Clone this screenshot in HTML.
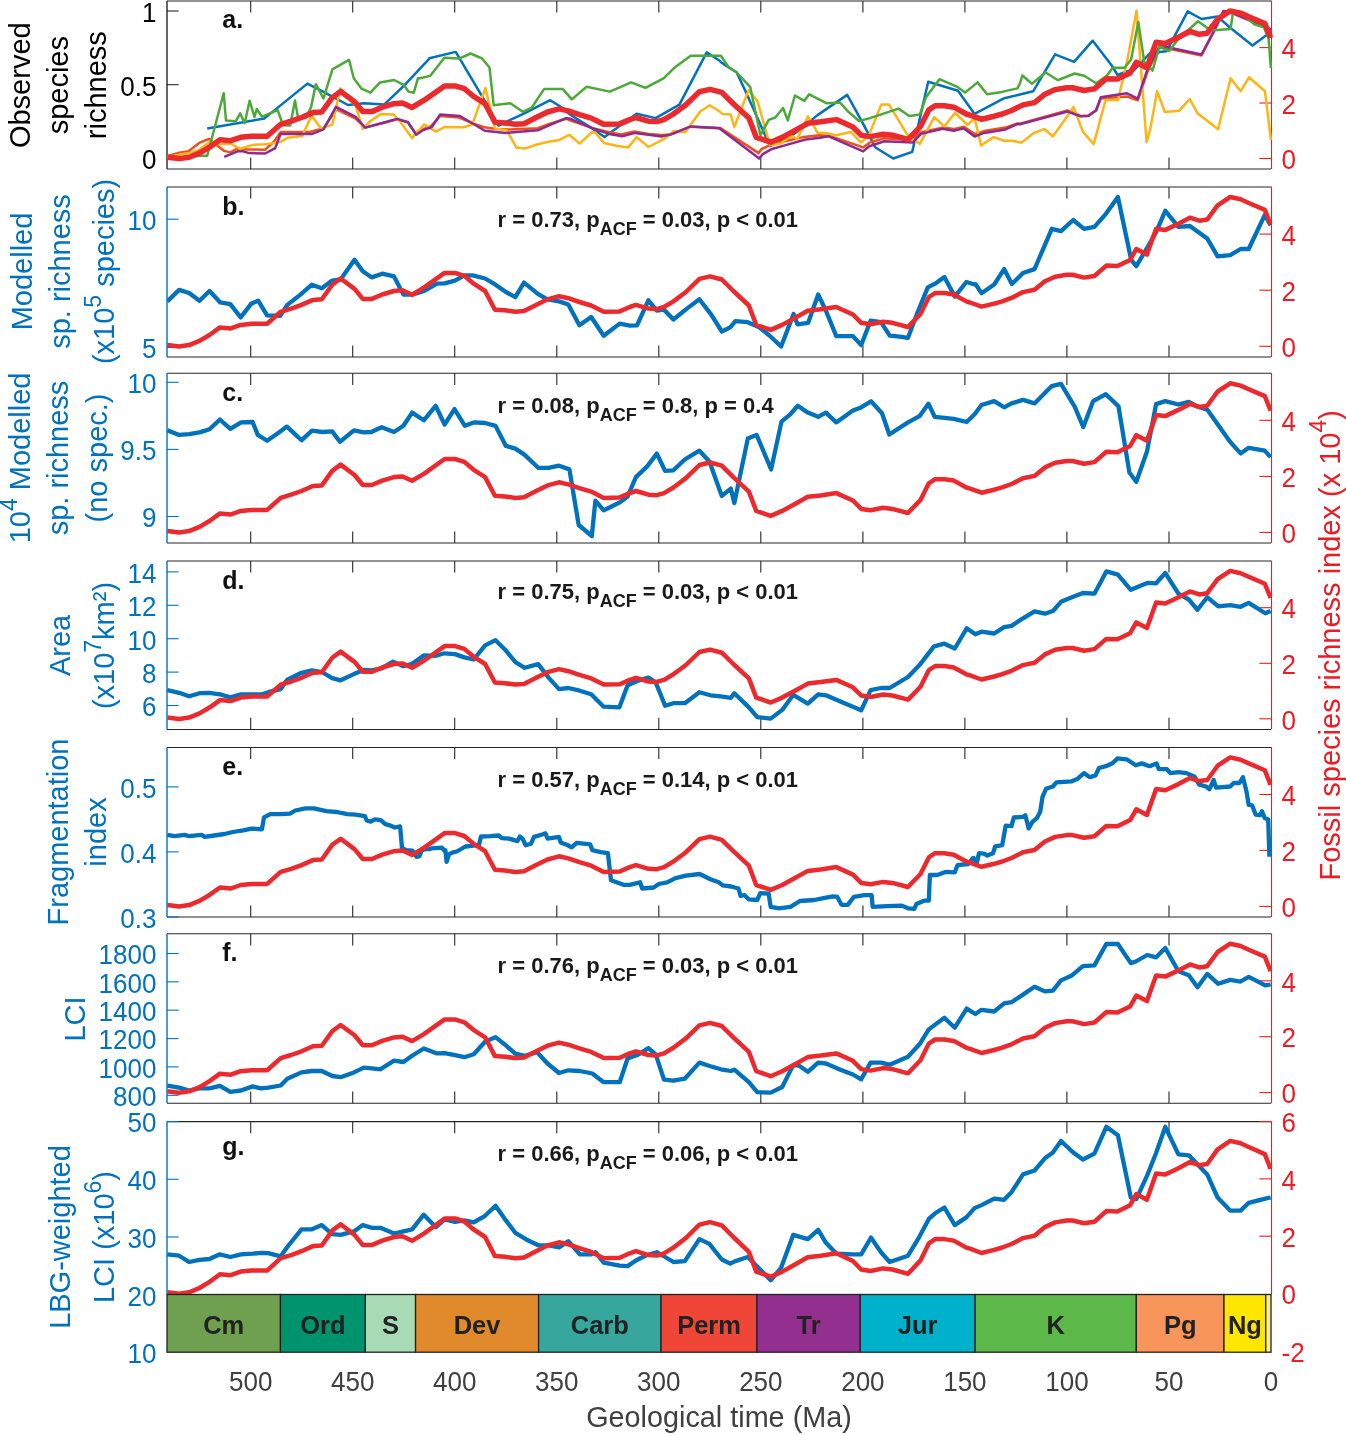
<!DOCTYPE html><html><head><meta charset="utf-8"><style>html,body{margin:0;padding:0;background:#fff;}svg{display:block;will-change:transform;}text{font-family:"Liberation Sans",sans-serif;}</style></head><body>
<svg width="1346" height="1435" viewBox="0 0 1346 1435">
<rect width="1346" height="1435" fill="#fff"/>
<defs>
<clipPath id="cpa"><rect x="167.0" y="1.0" width="1106.0" height="168.0"/></clipPath>
<clipPath id="cpb"><rect x="167.0" y="187.0" width="1104.6" height="170.0"/></clipPath>
<clipPath id="cpc"><rect x="167.0" y="373.3" width="1104.6" height="169.7"/></clipPath>
<clipPath id="cpd"><rect x="167.0" y="561.0" width="1104.6" height="168.4"/></clipPath>
<clipPath id="cpe"><rect x="167.0" y="747.5" width="1104.6" height="169.5"/></clipPath>
<clipPath id="cpf"><rect x="167.0" y="933.8" width="1104.6" height="169.4"/></clipPath>
<clipPath id="cpg"><rect x="167.0" y="1121.6" width="1104.6" height="175.9"/></clipPath>
</defs>
<line x1="167.0" y1="1.0" x2="1271.0" y2="1.0" stroke="#262626" stroke-width="1.05"/>
<line x1="167.0" y1="169.0" x2="1271.0" y2="169.0" stroke="#262626" stroke-width="1.05"/>
<line x1="250.7" y1="1.0" x2="250.7" y2="12.6" stroke="#262626" stroke-width="1.1"/>
<line x1="250.7" y1="169.0" x2="250.7" y2="157.4" stroke="#262626" stroke-width="1.1"/>
<line x1="352.7" y1="1.0" x2="352.7" y2="12.6" stroke="#262626" stroke-width="1.1"/>
<line x1="352.7" y1="169.0" x2="352.7" y2="157.4" stroke="#262626" stroke-width="1.1"/>
<line x1="454.7" y1="1.0" x2="454.7" y2="12.6" stroke="#262626" stroke-width="1.1"/>
<line x1="454.7" y1="169.0" x2="454.7" y2="157.4" stroke="#262626" stroke-width="1.1"/>
<line x1="556.8" y1="1.0" x2="556.8" y2="12.6" stroke="#262626" stroke-width="1.1"/>
<line x1="556.8" y1="169.0" x2="556.8" y2="157.4" stroke="#262626" stroke-width="1.1"/>
<line x1="658.8" y1="1.0" x2="658.8" y2="12.6" stroke="#262626" stroke-width="1.1"/>
<line x1="658.8" y1="169.0" x2="658.8" y2="157.4" stroke="#262626" stroke-width="1.1"/>
<line x1="760.8" y1="1.0" x2="760.8" y2="12.6" stroke="#262626" stroke-width="1.1"/>
<line x1="760.8" y1="169.0" x2="760.8" y2="157.4" stroke="#262626" stroke-width="1.1"/>
<line x1="862.9" y1="1.0" x2="862.9" y2="12.6" stroke="#262626" stroke-width="1.1"/>
<line x1="862.9" y1="169.0" x2="862.9" y2="157.4" stroke="#262626" stroke-width="1.1"/>
<line x1="964.9" y1="1.0" x2="964.9" y2="12.6" stroke="#262626" stroke-width="1.1"/>
<line x1="964.9" y1="169.0" x2="964.9" y2="157.4" stroke="#262626" stroke-width="1.1"/>
<line x1="1066.9" y1="1.0" x2="1066.9" y2="12.6" stroke="#262626" stroke-width="1.1"/>
<line x1="1066.9" y1="169.0" x2="1066.9" y2="157.4" stroke="#262626" stroke-width="1.1"/>
<line x1="1169.0" y1="1.0" x2="1169.0" y2="12.6" stroke="#262626" stroke-width="1.1"/>
<line x1="1169.0" y1="169.0" x2="1169.0" y2="157.4" stroke="#262626" stroke-width="1.1"/>
<line x1="167.0" y1="1.0" x2="167.0" y2="169.0" stroke="#262626" stroke-width="1.4"/>
<line x1="167.0" y1="11.0" x2="178.6" y2="11.0" stroke="#262626" stroke-width="1.1"/>
<text transform="translate(156.40,21.80) scale(1,1.04)" font-size="26" fill="#000" text-anchor="end">1</text>
<line x1="167.0" y1="84.7" x2="178.6" y2="84.7" stroke="#262626" stroke-width="1.1"/>
<text transform="translate(156.40,95.50) scale(1,1.04)" font-size="26" fill="#000" text-anchor="end">0.5</text>
<line x1="167.0" y1="158.4" x2="178.6" y2="158.4" stroke="#262626" stroke-width="1.1"/>
<text transform="translate(156.40,169.20) scale(1,1.04)" font-size="26" fill="#000" text-anchor="end">0</text>
<line x1="1271.5" y1="0.5" x2="1271.5" y2="169.0" stroke="#EC1C24" stroke-width="1.15"/>
<line x1="1259.4" y1="47.6" x2="1271.0" y2="47.6" stroke="#EC1C24" stroke-width="1.1"/>
<text transform="translate(1281.50,58.37) scale(1,1.04)" font-size="26" fill="#EC1C24">4</text>
<line x1="1259.4" y1="103.0" x2="1271.0" y2="103.0" stroke="#EC1C24" stroke-width="1.1"/>
<text transform="translate(1281.50,113.82) scale(1,1.04)" font-size="26" fill="#EC1C24">2</text>
<line x1="1259.4" y1="158.5" x2="1271.0" y2="158.5" stroke="#EC1C24" stroke-width="1.1"/>
<text transform="translate(1281.50,169.27) scale(1,1.04)" font-size="26" fill="#EC1C24">0</text>
<line x1="167.0" y1="187.0" x2="1271.0" y2="187.0" stroke="#262626" stroke-width="1.05"/>
<line x1="167.0" y1="357.0" x2="1271.0" y2="357.0" stroke="#262626" stroke-width="1.05"/>
<line x1="250.7" y1="187.0" x2="250.7" y2="198.6" stroke="#262626" stroke-width="1.1"/>
<line x1="250.7" y1="357.0" x2="250.7" y2="345.4" stroke="#262626" stroke-width="1.1"/>
<line x1="352.7" y1="187.0" x2="352.7" y2="198.6" stroke="#262626" stroke-width="1.1"/>
<line x1="352.7" y1="357.0" x2="352.7" y2="345.4" stroke="#262626" stroke-width="1.1"/>
<line x1="454.7" y1="187.0" x2="454.7" y2="198.6" stroke="#262626" stroke-width="1.1"/>
<line x1="454.7" y1="357.0" x2="454.7" y2="345.4" stroke="#262626" stroke-width="1.1"/>
<line x1="556.8" y1="187.0" x2="556.8" y2="198.6" stroke="#262626" stroke-width="1.1"/>
<line x1="556.8" y1="357.0" x2="556.8" y2="345.4" stroke="#262626" stroke-width="1.1"/>
<line x1="658.8" y1="187.0" x2="658.8" y2="198.6" stroke="#262626" stroke-width="1.1"/>
<line x1="658.8" y1="357.0" x2="658.8" y2="345.4" stroke="#262626" stroke-width="1.1"/>
<line x1="760.8" y1="187.0" x2="760.8" y2="198.6" stroke="#262626" stroke-width="1.1"/>
<line x1="760.8" y1="357.0" x2="760.8" y2="345.4" stroke="#262626" stroke-width="1.1"/>
<line x1="862.9" y1="187.0" x2="862.9" y2="198.6" stroke="#262626" stroke-width="1.1"/>
<line x1="862.9" y1="357.0" x2="862.9" y2="345.4" stroke="#262626" stroke-width="1.1"/>
<line x1="964.9" y1="187.0" x2="964.9" y2="198.6" stroke="#262626" stroke-width="1.1"/>
<line x1="964.9" y1="357.0" x2="964.9" y2="345.4" stroke="#262626" stroke-width="1.1"/>
<line x1="1066.9" y1="187.0" x2="1066.9" y2="198.6" stroke="#262626" stroke-width="1.1"/>
<line x1="1066.9" y1="357.0" x2="1066.9" y2="345.4" stroke="#262626" stroke-width="1.1"/>
<line x1="1169.0" y1="187.0" x2="1169.0" y2="198.6" stroke="#262626" stroke-width="1.1"/>
<line x1="1169.0" y1="357.0" x2="1169.0" y2="345.4" stroke="#262626" stroke-width="1.1"/>
<line x1="167.0" y1="187.0" x2="167.0" y2="357.0" stroke="#0072BD" stroke-width="1.4"/>
<line x1="167.0" y1="219.2" x2="178.6" y2="219.2" stroke="#0072BD" stroke-width="1.1"/>
<text transform="translate(156.40,230.00) scale(1,1.04)" font-size="26" fill="#0072BD" text-anchor="end">10</text>
<line x1="167.0" y1="347.5" x2="178.6" y2="347.5" stroke="#0072BD" stroke-width="1.1"/>
<text transform="translate(156.40,358.30) scale(1,1.04)" font-size="26" fill="#0072BD" text-anchor="end">5</text>
<line x1="1271.5" y1="186.5" x2="1271.5" y2="357.0" stroke="#EC1C24" stroke-width="1.15"/>
<line x1="1259.4" y1="234.1" x2="1271.0" y2="234.1" stroke="#EC1C24" stroke-width="1.1"/>
<text transform="translate(1281.50,244.93) scale(1,1.04)" font-size="26" fill="#EC1C24">4</text>
<line x1="1259.4" y1="290.2" x2="1271.0" y2="290.2" stroke="#EC1C24" stroke-width="1.1"/>
<text transform="translate(1281.50,301.03) scale(1,1.04)" font-size="26" fill="#EC1C24">2</text>
<line x1="1259.4" y1="346.3" x2="1271.0" y2="346.3" stroke="#EC1C24" stroke-width="1.1"/>
<text transform="translate(1281.50,357.14) scale(1,1.04)" font-size="26" fill="#EC1C24">0</text>
<line x1="167.0" y1="373.3" x2="1271.0" y2="373.3" stroke="#262626" stroke-width="1.05"/>
<line x1="167.0" y1="543.0" x2="1271.0" y2="543.0" stroke="#262626" stroke-width="1.05"/>
<line x1="250.7" y1="373.3" x2="250.7" y2="384.9" stroke="#262626" stroke-width="1.1"/>
<line x1="250.7" y1="543.0" x2="250.7" y2="531.4" stroke="#262626" stroke-width="1.1"/>
<line x1="352.7" y1="373.3" x2="352.7" y2="384.9" stroke="#262626" stroke-width="1.1"/>
<line x1="352.7" y1="543.0" x2="352.7" y2="531.4" stroke="#262626" stroke-width="1.1"/>
<line x1="454.7" y1="373.3" x2="454.7" y2="384.9" stroke="#262626" stroke-width="1.1"/>
<line x1="454.7" y1="543.0" x2="454.7" y2="531.4" stroke="#262626" stroke-width="1.1"/>
<line x1="556.8" y1="373.3" x2="556.8" y2="384.9" stroke="#262626" stroke-width="1.1"/>
<line x1="556.8" y1="543.0" x2="556.8" y2="531.4" stroke="#262626" stroke-width="1.1"/>
<line x1="658.8" y1="373.3" x2="658.8" y2="384.9" stroke="#262626" stroke-width="1.1"/>
<line x1="658.8" y1="543.0" x2="658.8" y2="531.4" stroke="#262626" stroke-width="1.1"/>
<line x1="760.8" y1="373.3" x2="760.8" y2="384.9" stroke="#262626" stroke-width="1.1"/>
<line x1="760.8" y1="543.0" x2="760.8" y2="531.4" stroke="#262626" stroke-width="1.1"/>
<line x1="862.9" y1="373.3" x2="862.9" y2="384.9" stroke="#262626" stroke-width="1.1"/>
<line x1="862.9" y1="543.0" x2="862.9" y2="531.4" stroke="#262626" stroke-width="1.1"/>
<line x1="964.9" y1="373.3" x2="964.9" y2="384.9" stroke="#262626" stroke-width="1.1"/>
<line x1="964.9" y1="543.0" x2="964.9" y2="531.4" stroke="#262626" stroke-width="1.1"/>
<line x1="1066.9" y1="373.3" x2="1066.9" y2="384.9" stroke="#262626" stroke-width="1.1"/>
<line x1="1066.9" y1="543.0" x2="1066.9" y2="531.4" stroke="#262626" stroke-width="1.1"/>
<line x1="1169.0" y1="373.3" x2="1169.0" y2="384.9" stroke="#262626" stroke-width="1.1"/>
<line x1="1169.0" y1="543.0" x2="1169.0" y2="531.4" stroke="#262626" stroke-width="1.1"/>
<line x1="167.0" y1="373.3" x2="167.0" y2="543.0" stroke="#0072BD" stroke-width="1.4"/>
<line x1="167.0" y1="382.3" x2="178.6" y2="382.3" stroke="#0072BD" stroke-width="1.1"/>
<text transform="translate(156.40,393.10) scale(1,1.04)" font-size="26" fill="#0072BD" text-anchor="end">10</text>
<line x1="167.0" y1="449.4" x2="178.6" y2="449.4" stroke="#0072BD" stroke-width="1.1"/>
<text transform="translate(156.40,460.20) scale(1,1.04)" font-size="26" fill="#0072BD" text-anchor="end">9.5</text>
<line x1="167.0" y1="516.5" x2="178.6" y2="516.5" stroke="#0072BD" stroke-width="1.1"/>
<text transform="translate(156.40,527.30) scale(1,1.04)" font-size="26" fill="#0072BD" text-anchor="end">9</text>
<line x1="1271.5" y1="372.8" x2="1271.5" y2="543.0" stroke="#EC1C24" stroke-width="1.15"/>
<line x1="1259.4" y1="420.3" x2="1271.0" y2="420.3" stroke="#EC1C24" stroke-width="1.1"/>
<text transform="translate(1281.50,431.15) scale(1,1.04)" font-size="26" fill="#EC1C24">4</text>
<line x1="1259.4" y1="476.4" x2="1271.0" y2="476.4" stroke="#EC1C24" stroke-width="1.1"/>
<text transform="translate(1281.50,487.15) scale(1,1.04)" font-size="26" fill="#EC1C24">2</text>
<line x1="1259.4" y1="532.4" x2="1271.0" y2="532.4" stroke="#EC1C24" stroke-width="1.1"/>
<text transform="translate(1281.50,543.16) scale(1,1.04)" font-size="26" fill="#EC1C24">0</text>
<line x1="167.0" y1="561.0" x2="1271.0" y2="561.0" stroke="#262626" stroke-width="1.05"/>
<line x1="167.0" y1="729.4" x2="1271.0" y2="729.4" stroke="#262626" stroke-width="1.05"/>
<line x1="250.7" y1="561.0" x2="250.7" y2="572.6" stroke="#262626" stroke-width="1.1"/>
<line x1="250.7" y1="729.4" x2="250.7" y2="717.8" stroke="#262626" stroke-width="1.1"/>
<line x1="352.7" y1="561.0" x2="352.7" y2="572.6" stroke="#262626" stroke-width="1.1"/>
<line x1="352.7" y1="729.4" x2="352.7" y2="717.8" stroke="#262626" stroke-width="1.1"/>
<line x1="454.7" y1="561.0" x2="454.7" y2="572.6" stroke="#262626" stroke-width="1.1"/>
<line x1="454.7" y1="729.4" x2="454.7" y2="717.8" stroke="#262626" stroke-width="1.1"/>
<line x1="556.8" y1="561.0" x2="556.8" y2="572.6" stroke="#262626" stroke-width="1.1"/>
<line x1="556.8" y1="729.4" x2="556.8" y2="717.8" stroke="#262626" stroke-width="1.1"/>
<line x1="658.8" y1="561.0" x2="658.8" y2="572.6" stroke="#262626" stroke-width="1.1"/>
<line x1="658.8" y1="729.4" x2="658.8" y2="717.8" stroke="#262626" stroke-width="1.1"/>
<line x1="760.8" y1="561.0" x2="760.8" y2="572.6" stroke="#262626" stroke-width="1.1"/>
<line x1="760.8" y1="729.4" x2="760.8" y2="717.8" stroke="#262626" stroke-width="1.1"/>
<line x1="862.9" y1="561.0" x2="862.9" y2="572.6" stroke="#262626" stroke-width="1.1"/>
<line x1="862.9" y1="729.4" x2="862.9" y2="717.8" stroke="#262626" stroke-width="1.1"/>
<line x1="964.9" y1="561.0" x2="964.9" y2="572.6" stroke="#262626" stroke-width="1.1"/>
<line x1="964.9" y1="729.4" x2="964.9" y2="717.8" stroke="#262626" stroke-width="1.1"/>
<line x1="1066.9" y1="561.0" x2="1066.9" y2="572.6" stroke="#262626" stroke-width="1.1"/>
<line x1="1066.9" y1="729.4" x2="1066.9" y2="717.8" stroke="#262626" stroke-width="1.1"/>
<line x1="1169.0" y1="561.0" x2="1169.0" y2="572.6" stroke="#262626" stroke-width="1.1"/>
<line x1="1169.0" y1="729.4" x2="1169.0" y2="717.8" stroke="#262626" stroke-width="1.1"/>
<line x1="167.0" y1="561.0" x2="167.0" y2="729.4" stroke="#0072BD" stroke-width="1.4"/>
<line x1="167.0" y1="571.9" x2="178.6" y2="571.9" stroke="#0072BD" stroke-width="1.1"/>
<text transform="translate(156.40,582.70) scale(1,1.04)" font-size="26" fill="#0072BD" text-anchor="end">14</text>
<line x1="167.0" y1="605.3" x2="178.6" y2="605.3" stroke="#0072BD" stroke-width="1.1"/>
<text transform="translate(156.40,616.10) scale(1,1.04)" font-size="26" fill="#0072BD" text-anchor="end">12</text>
<line x1="167.0" y1="638.7" x2="178.6" y2="638.7" stroke="#0072BD" stroke-width="1.1"/>
<text transform="translate(156.40,649.50) scale(1,1.04)" font-size="26" fill="#0072BD" text-anchor="end">10</text>
<line x1="167.0" y1="672.1" x2="178.6" y2="672.1" stroke="#0072BD" stroke-width="1.1"/>
<text transform="translate(156.40,682.90) scale(1,1.04)" font-size="26" fill="#0072BD" text-anchor="end">8</text>
<line x1="167.0" y1="705.5" x2="178.6" y2="705.5" stroke="#0072BD" stroke-width="1.1"/>
<text transform="translate(156.40,716.30) scale(1,1.04)" font-size="26" fill="#0072BD" text-anchor="end">6</text>
<line x1="1271.5" y1="560.5" x2="1271.5" y2="729.4" stroke="#EC1C24" stroke-width="1.15"/>
<line x1="1259.4" y1="607.7" x2="1271.0" y2="607.7" stroke="#EC1C24" stroke-width="1.1"/>
<text transform="translate(1281.50,618.49) scale(1,1.04)" font-size="26" fill="#EC1C24">4</text>
<line x1="1259.4" y1="663.3" x2="1271.0" y2="663.3" stroke="#EC1C24" stroke-width="1.1"/>
<text transform="translate(1281.50,674.06) scale(1,1.04)" font-size="26" fill="#EC1C24">2</text>
<line x1="1259.4" y1="718.8" x2="1271.0" y2="718.8" stroke="#EC1C24" stroke-width="1.1"/>
<text transform="translate(1281.50,729.64) scale(1,1.04)" font-size="26" fill="#EC1C24">0</text>
<line x1="167.0" y1="747.5" x2="1271.0" y2="747.5" stroke="#262626" stroke-width="1.05"/>
<line x1="167.0" y1="917.0" x2="1271.0" y2="917.0" stroke="#262626" stroke-width="1.05"/>
<line x1="250.7" y1="747.5" x2="250.7" y2="759.1" stroke="#262626" stroke-width="1.1"/>
<line x1="250.7" y1="917.0" x2="250.7" y2="905.4" stroke="#262626" stroke-width="1.1"/>
<line x1="352.7" y1="747.5" x2="352.7" y2="759.1" stroke="#262626" stroke-width="1.1"/>
<line x1="352.7" y1="917.0" x2="352.7" y2="905.4" stroke="#262626" stroke-width="1.1"/>
<line x1="454.7" y1="747.5" x2="454.7" y2="759.1" stroke="#262626" stroke-width="1.1"/>
<line x1="454.7" y1="917.0" x2="454.7" y2="905.4" stroke="#262626" stroke-width="1.1"/>
<line x1="556.8" y1="747.5" x2="556.8" y2="759.1" stroke="#262626" stroke-width="1.1"/>
<line x1="556.8" y1="917.0" x2="556.8" y2="905.4" stroke="#262626" stroke-width="1.1"/>
<line x1="658.8" y1="747.5" x2="658.8" y2="759.1" stroke="#262626" stroke-width="1.1"/>
<line x1="658.8" y1="917.0" x2="658.8" y2="905.4" stroke="#262626" stroke-width="1.1"/>
<line x1="760.8" y1="747.5" x2="760.8" y2="759.1" stroke="#262626" stroke-width="1.1"/>
<line x1="760.8" y1="917.0" x2="760.8" y2="905.4" stroke="#262626" stroke-width="1.1"/>
<line x1="862.9" y1="747.5" x2="862.9" y2="759.1" stroke="#262626" stroke-width="1.1"/>
<line x1="862.9" y1="917.0" x2="862.9" y2="905.4" stroke="#262626" stroke-width="1.1"/>
<line x1="964.9" y1="747.5" x2="964.9" y2="759.1" stroke="#262626" stroke-width="1.1"/>
<line x1="964.9" y1="917.0" x2="964.9" y2="905.4" stroke="#262626" stroke-width="1.1"/>
<line x1="1066.9" y1="747.5" x2="1066.9" y2="759.1" stroke="#262626" stroke-width="1.1"/>
<line x1="1066.9" y1="917.0" x2="1066.9" y2="905.4" stroke="#262626" stroke-width="1.1"/>
<line x1="1169.0" y1="747.5" x2="1169.0" y2="759.1" stroke="#262626" stroke-width="1.1"/>
<line x1="1169.0" y1="917.0" x2="1169.0" y2="905.4" stroke="#262626" stroke-width="1.1"/>
<line x1="167.0" y1="747.5" x2="167.0" y2="917.0" stroke="#0072BD" stroke-width="1.4"/>
<line x1="167.0" y1="786.9" x2="178.6" y2="786.9" stroke="#0072BD" stroke-width="1.1"/>
<text transform="translate(156.40,797.70) scale(1,1.04)" font-size="26" fill="#0072BD" text-anchor="end">0.5</text>
<line x1="167.0" y1="851.9" x2="178.6" y2="851.9" stroke="#0072BD" stroke-width="1.1"/>
<text transform="translate(156.40,862.70) scale(1,1.04)" font-size="26" fill="#0072BD" text-anchor="end">0.4</text>
<line x1="167.0" y1="917.0" x2="178.6" y2="917.0" stroke="#0072BD" stroke-width="1.1"/>
<text transform="translate(156.40,927.80) scale(1,1.04)" font-size="26" fill="#0072BD" text-anchor="end">0.3</text>
<line x1="1271.5" y1="747.0" x2="1271.5" y2="917.0" stroke="#EC1C24" stroke-width="1.15"/>
<line x1="1259.4" y1="794.5" x2="1271.0" y2="794.5" stroke="#EC1C24" stroke-width="1.1"/>
<text transform="translate(1281.50,805.29) scale(1,1.04)" font-size="26" fill="#EC1C24">4</text>
<line x1="1259.4" y1="850.4" x2="1271.0" y2="850.4" stroke="#EC1C24" stroke-width="1.1"/>
<text transform="translate(1281.50,861.23) scale(1,1.04)" font-size="26" fill="#EC1C24">2</text>
<line x1="1259.4" y1="906.4" x2="1271.0" y2="906.4" stroke="#EC1C24" stroke-width="1.1"/>
<text transform="translate(1281.50,917.17) scale(1,1.04)" font-size="26" fill="#EC1C24">0</text>
<line x1="167.0" y1="933.8" x2="1271.0" y2="933.8" stroke="#262626" stroke-width="1.05"/>
<line x1="167.0" y1="1103.2" x2="1271.0" y2="1103.2" stroke="#262626" stroke-width="1.05"/>
<line x1="250.7" y1="933.8" x2="250.7" y2="945.4" stroke="#262626" stroke-width="1.1"/>
<line x1="250.7" y1="1103.2" x2="250.7" y2="1091.6" stroke="#262626" stroke-width="1.1"/>
<line x1="352.7" y1="933.8" x2="352.7" y2="945.4" stroke="#262626" stroke-width="1.1"/>
<line x1="352.7" y1="1103.2" x2="352.7" y2="1091.6" stroke="#262626" stroke-width="1.1"/>
<line x1="454.7" y1="933.8" x2="454.7" y2="945.4" stroke="#262626" stroke-width="1.1"/>
<line x1="454.7" y1="1103.2" x2="454.7" y2="1091.6" stroke="#262626" stroke-width="1.1"/>
<line x1="556.8" y1="933.8" x2="556.8" y2="945.4" stroke="#262626" stroke-width="1.1"/>
<line x1="556.8" y1="1103.2" x2="556.8" y2="1091.6" stroke="#262626" stroke-width="1.1"/>
<line x1="658.8" y1="933.8" x2="658.8" y2="945.4" stroke="#262626" stroke-width="1.1"/>
<line x1="658.8" y1="1103.2" x2="658.8" y2="1091.6" stroke="#262626" stroke-width="1.1"/>
<line x1="760.8" y1="933.8" x2="760.8" y2="945.4" stroke="#262626" stroke-width="1.1"/>
<line x1="760.8" y1="1103.2" x2="760.8" y2="1091.6" stroke="#262626" stroke-width="1.1"/>
<line x1="862.9" y1="933.8" x2="862.9" y2="945.4" stroke="#262626" stroke-width="1.1"/>
<line x1="862.9" y1="1103.2" x2="862.9" y2="1091.6" stroke="#262626" stroke-width="1.1"/>
<line x1="964.9" y1="933.8" x2="964.9" y2="945.4" stroke="#262626" stroke-width="1.1"/>
<line x1="964.9" y1="1103.2" x2="964.9" y2="1091.6" stroke="#262626" stroke-width="1.1"/>
<line x1="1066.9" y1="933.8" x2="1066.9" y2="945.4" stroke="#262626" stroke-width="1.1"/>
<line x1="1066.9" y1="1103.2" x2="1066.9" y2="1091.6" stroke="#262626" stroke-width="1.1"/>
<line x1="1169.0" y1="933.8" x2="1169.0" y2="945.4" stroke="#262626" stroke-width="1.1"/>
<line x1="1169.0" y1="1103.2" x2="1169.0" y2="1091.6" stroke="#262626" stroke-width="1.1"/>
<line x1="167.0" y1="933.8" x2="167.0" y2="1103.2" stroke="#0072BD" stroke-width="1.4"/>
<line x1="167.0" y1="953.5" x2="178.6" y2="953.5" stroke="#0072BD" stroke-width="1.1"/>
<text transform="translate(156.40,964.30) scale(1,1.04)" font-size="26" fill="#0072BD" text-anchor="end">1800</text>
<line x1="167.0" y1="981.8" x2="178.6" y2="981.8" stroke="#0072BD" stroke-width="1.1"/>
<text transform="translate(156.40,992.60) scale(1,1.04)" font-size="26" fill="#0072BD" text-anchor="end">1600</text>
<line x1="167.0" y1="1010.2" x2="178.6" y2="1010.2" stroke="#0072BD" stroke-width="1.1"/>
<text transform="translate(156.40,1021.00) scale(1,1.04)" font-size="26" fill="#0072BD" text-anchor="end">1400</text>
<line x1="167.0" y1="1038.6" x2="178.6" y2="1038.6" stroke="#0072BD" stroke-width="1.1"/>
<text transform="translate(156.40,1049.40) scale(1,1.04)" font-size="26" fill="#0072BD" text-anchor="end">1200</text>
<line x1="167.0" y1="1066.9" x2="178.6" y2="1066.9" stroke="#0072BD" stroke-width="1.1"/>
<text transform="translate(156.40,1077.70) scale(1,1.04)" font-size="26" fill="#0072BD" text-anchor="end">1000</text>
<line x1="167.0" y1="1095.3" x2="178.6" y2="1095.3" stroke="#0072BD" stroke-width="1.1"/>
<text transform="translate(156.40,1106.10) scale(1,1.04)" font-size="26" fill="#0072BD" text-anchor="end">800</text>
<line x1="1271.5" y1="933.3" x2="1271.5" y2="1103.2" stroke="#EC1C24" stroke-width="1.15"/>
<line x1="1259.4" y1="980.8" x2="1271.0" y2="980.8" stroke="#EC1C24" stroke-width="1.1"/>
<text transform="translate(1281.50,991.56) scale(1,1.04)" font-size="26" fill="#EC1C24">4</text>
<line x1="1259.4" y1="1036.7" x2="1271.0" y2="1036.7" stroke="#EC1C24" stroke-width="1.1"/>
<text transform="translate(1281.50,1047.47) scale(1,1.04)" font-size="26" fill="#EC1C24">2</text>
<line x1="1259.4" y1="1092.6" x2="1271.0" y2="1092.6" stroke="#EC1C24" stroke-width="1.1"/>
<text transform="translate(1281.50,1103.38) scale(1,1.04)" font-size="26" fill="#EC1C24">0</text>
<line x1="167.0" y1="1121.6" x2="1271.0" y2="1121.6" stroke="#262626" stroke-width="1.05"/>
<line x1="250.7" y1="1121.6" x2="250.7" y2="1133.2" stroke="#262626" stroke-width="1.1"/>
<line x1="352.7" y1="1121.6" x2="352.7" y2="1133.2" stroke="#262626" stroke-width="1.1"/>
<line x1="454.7" y1="1121.6" x2="454.7" y2="1133.2" stroke="#262626" stroke-width="1.1"/>
<line x1="556.8" y1="1121.6" x2="556.8" y2="1133.2" stroke="#262626" stroke-width="1.1"/>
<line x1="658.8" y1="1121.6" x2="658.8" y2="1133.2" stroke="#262626" stroke-width="1.1"/>
<line x1="760.8" y1="1121.6" x2="760.8" y2="1133.2" stroke="#262626" stroke-width="1.1"/>
<line x1="862.9" y1="1121.6" x2="862.9" y2="1133.2" stroke="#262626" stroke-width="1.1"/>
<line x1="964.9" y1="1121.6" x2="964.9" y2="1133.2" stroke="#262626" stroke-width="1.1"/>
<line x1="1066.9" y1="1121.6" x2="1066.9" y2="1133.2" stroke="#262626" stroke-width="1.1"/>
<line x1="1169.0" y1="1121.6" x2="1169.0" y2="1133.2" stroke="#262626" stroke-width="1.1"/>
<line x1="167.0" y1="1121.6" x2="167.0" y2="1294.5" stroke="#0072BD" stroke-width="1.4"/>
<line x1="167.0" y1="1121.6" x2="178.6" y2="1121.6" stroke="#0072BD" stroke-width="1.1"/>
<text transform="translate(156.40,1132.40) scale(1,1.04)" font-size="26" fill="#0072BD" text-anchor="end">50</text>
<line x1="167.0" y1="1179.3" x2="178.6" y2="1179.3" stroke="#0072BD" stroke-width="1.1"/>
<text transform="translate(156.40,1190.10) scale(1,1.04)" font-size="26" fill="#0072BD" text-anchor="end">40</text>
<line x1="167.0" y1="1237.0" x2="178.6" y2="1237.0" stroke="#0072BD" stroke-width="1.1"/>
<text transform="translate(156.40,1247.80) scale(1,1.04)" font-size="26" fill="#0072BD" text-anchor="end">30</text>
<text transform="translate(156.40,1305.50) scale(1,1.04)" font-size="26" fill="#0072BD" text-anchor="end">20</text>
<text transform="translate(156.40,1363.00) scale(1,1.04)" font-size="26" fill="#0072BD" text-anchor="end">10</text>
<line x1="1271.5" y1="1121.1" x2="1271.5" y2="1294.5" stroke="#EC1C24" stroke-width="1.15"/>
<line x1="1259.4" y1="1121.5" x2="1271.0" y2="1121.5" stroke="#EC1C24" stroke-width="1.1"/>
<text transform="translate(1281.50,1132.35) scale(1,1.04)" font-size="26" fill="#EC1C24">6</text>
<line x1="1259.4" y1="1178.9" x2="1271.0" y2="1178.9" stroke="#EC1C24" stroke-width="1.1"/>
<text transform="translate(1281.50,1189.69) scale(1,1.04)" font-size="26" fill="#EC1C24">4</text>
<line x1="1259.4" y1="1236.2" x2="1271.0" y2="1236.2" stroke="#EC1C24" stroke-width="1.1"/>
<text transform="translate(1281.50,1247.03) scale(1,1.04)" font-size="26" fill="#EC1C24">2</text>
<text transform="translate(1281.50,1304.37) scale(1,1.04)" font-size="26" fill="#EC1C24">0</text>
<text transform="translate(1281.50,1361.71) scale(1,1.04)" font-size="26" fill="#EC1C24">-2</text>
<g clip-path="url(#cpb)" fill="none" stroke-linejoin="round" stroke-linecap="butt">
<path d="M167.3,301.4 L179.1,289.9 L189.1,293.0 L199.5,300.7 L209.5,291.0 L220.3,302.4 L230.3,304.1 L240.7,317.4 L251.5,303.4 L258.2,300.7 L267.1,315.3 L280.2,315.9 L287.3,304.9 L299.8,295.1 L311.9,284.7 L321.8,288.3 L332.2,280.6 L340.6,279.5 L354.5,259.8 L362.8,271.2 L371.8,277.4 L382.2,273.7 L394.0,276.4 L403.4,294.5 L412.8,294.5 L424.2,291.0 L437.0,283.7 L444.6,283.3 L455.0,280.6 L464.3,275.4 L472.6,275.4 L485.1,278.5 L495.5,284.7 L505.9,292.0 L515.3,297.2 L524.0,282.6 L538.2,294.1 L547.5,299.3 L559.0,301.4 L568.3,304.5 L579.4,325.3 L591.2,317.0 L603.7,335.7 L619.7,323.6 L629.7,325.7 L637.0,325.3 L648.4,300.3 L656.8,310.7 L664.0,309.7 L673.4,319.5 L686.9,308.6 L699.4,299.3 L711.4,314.9 L721.8,331.5 L730.2,327.4 L735.4,321.1 L747.8,322.2 L759.3,327.4 L769.7,335.7 L781.1,346.5 L793.6,313.9 L797.4,324.3 L808.2,322.8 L818.2,294.5 L825.9,310.7 L836.3,336.1 L852.9,336.1 L861.2,345.1 L870.6,320.7 L881.0,322.2 L889.7,335.7 L899.7,336.7 L908.0,337.8 L917.4,312.8 L927.8,287.4 L935.1,283.7 L944.4,277.0 L954.8,296.6 L966.3,282.0 L974.6,284.5 L975.6,284.1 L981.5,293.2 L994.2,284.5 L1004.1,269.1 L1011.9,284.0 L1023.0,273.0 L1034.5,269.1 L1051.8,228.8 L1061.0,231.1 L1073.2,220.0 L1084.0,228.8 L1094.4,226.9 L1105.9,213.8 L1117.9,197.0 L1131.2,259.9 L1136.3,266.1 L1147.3,247.6 L1156.1,232.2 L1165.3,210.8 L1178.4,226.9 L1189.9,226.0 L1207.2,238.4 L1217.6,256.4 L1230.2,255.2 L1240.6,249.0 L1248.7,249.0 L1264.8,214.9 L1270.6,225.3" stroke="#0072BD" stroke-width="4.3"/>
<path d="M167.3,345.1 L179.1,346.5 L189.1,345.1 L199.5,340.9 L209.9,334.7 L219.9,327.4 L230.7,328.4 L240.7,324.9 L251.5,323.8 L267.1,323.8 L280.7,311.8 L291.1,308.6 L301.5,304.9 L312.9,299.9 L321.8,299.3 L332.2,284.7 L340.6,278.5 L354.5,288.9 L362.8,298.9 L371.8,298.9 L382.2,294.5 L394.0,291.0 L402.4,290.3 L412.1,294.7 L424.2,287.4 L444.6,272.9 L455.0,272.9 L464.3,275.8 L473.7,283.7 L485.1,291.0 L494.9,309.7 L504.9,310.3 L515.3,311.8 L524.0,311.1 L536.1,304.9 L547.5,299.3 L559.0,296.2 L568.3,298.2 L579.4,302.0 L591.2,305.5 L603.7,311.8 L619.7,311.4 L629.7,307.0 L635.9,304.9 L648.4,308.6 L656.8,309.1 L664.0,307.0 L673.4,301.4 L685.9,292.0 L699.4,278.9 L710.0,276.4 L721.8,279.5 L733.3,291.0 L748.9,305.5 L756.2,324.9 L770.7,329.9 L782.2,324.9 L793.6,318.6 L807.8,310.7 L820.7,309.3 L836.3,307.0 L852.9,314.5 L861.2,322.8 L870.6,324.3 L883.1,321.8 L892.4,322.8 L908.0,327.0 L920.5,313.9 L928.8,297.2 L935.1,293.0 L944.4,293.0 L953.8,294.5 L966.3,301.4 L970.0,302.5 L981.5,306.6 L994.2,303.6 L1002.2,301.3 L1011.5,297.9 L1023.0,292.1 L1034.5,289.8 L1044.9,281.3 L1055.2,276.7 L1066.7,274.8 L1072.5,274.8 L1084.0,277.6 L1094.4,276.0 L1106.3,265.6 L1117.4,266.1 L1130.1,259.9 L1136.3,249.0 L1146.9,254.6 L1156.1,228.8 L1165.3,229.9 L1178.4,223.7 L1189.9,217.7 L1199.2,220.7 L1207.2,219.5 L1217.6,205.3 L1230.2,197.0 L1240.6,199.3 L1248.7,203.0 L1264.8,209.9 L1270.6,224.4" stroke="#EC2A2E" stroke-width="4.5"/>
</g>
<g clip-path="url(#cpc)" fill="none" stroke-linejoin="round" stroke-linecap="butt">
<path d="M167.3,430.3 L179.1,434.9 L189.1,434.1 L199.5,432.4 L209.5,429.3 L219.9,419.5 L230.3,428.9 L241.1,422.4 L252.6,422.0 L257.8,434.9 L267.1,440.7 L277.5,433.4 L286.9,426.6 L301.5,440.3 L311.9,430.7 L322.3,432.0 L332.2,431.4 L339.9,441.8 L353.9,430.3 L363.9,432.4 L371.2,432.0 L381.6,427.2 L394.0,432.0 L403.4,425.8 L412.1,412.6 L423.8,420.3 L435.6,405.8 L444.6,424.5 L454.5,409.1 L464.9,425.8 L473.7,422.4 L485.1,423.0 L495.5,425.8 L505.9,445.9 L515.3,448.6 L524.7,454.9 L538.2,467.8 L548.6,467.8 L559.0,465.7 L569.4,469.4 L578.7,525.0 L591.8,536.0 L595.4,500.6 L603.7,510.4 L612.0,506.3 L620.3,502.1 L627.6,496.5 L635.9,477.1 L647.4,466.1 L656.8,453.6 L665.1,470.9 L673.4,470.3 L684.8,459.5 L699.4,450.7 L709.4,461.5 L721.8,495.9 L730.8,488.6 L734.3,503.1 L747.8,438.6 L756.6,434.9 L771.1,469.4 L781.5,421.6 L789.9,414.7 L797.8,405.8 L807.8,412.6 L818.2,416.8 L825.9,412.6 L836.3,422.4 L852.9,410.6 L861.2,407.4 L871.0,401.2 L882.0,413.3 L889.3,434.5 L908.0,422.4 L919.5,416.2 L928.4,403.7 L934.7,416.8 L953.8,418.9 L966.7,422.0 L974.6,414.3 L981.5,405.0 L994.2,401.1 L1004.1,407.3 L1011.5,403.4 L1023.0,399.9 L1034.5,403.4 L1051.8,386.1 L1061.0,383.8 L1074.8,406.8 L1083.3,427.1 L1093.2,401.1 L1105.9,394.2 L1118.5,406.4 L1129.4,472.5 L1136.3,481.7 L1146.9,451.8 L1156.1,404.1 L1165.3,401.1 L1178.4,404.5 L1188.8,401.8 L1196.9,406.4 L1207.2,409.6 L1230.2,441.9 L1240.6,453.4 L1248.7,447.8 L1264.8,450.6 L1270.6,457.1" stroke="#0072BD" stroke-width="4.3"/>
<path d="M167.3,531.1 L179.1,532.5 L189.1,531.1 L199.5,526.9 L209.9,520.7 L219.9,513.4 L230.7,514.5 L240.7,510.9 L251.5,509.9 L267.1,509.9 L280.7,497.9 L291.1,494.7 L301.5,491.0 L312.9,486.0 L321.8,485.4 L332.2,470.9 L340.6,464.6 L354.5,475.0 L362.8,485.0 L371.8,485.0 L382.2,480.6 L394.0,477.1 L402.4,476.5 L412.1,480.8 L424.2,473.6 L444.6,459.0 L455.0,459.0 L464.3,461.9 L473.7,469.8 L485.1,477.1 L494.9,495.8 L504.9,496.4 L515.3,497.9 L524.0,497.2 L536.1,491.0 L547.5,485.4 L559.0,482.3 L568.3,484.4 L579.4,488.1 L591.2,491.6 L603.7,497.9 L619.7,497.4 L629.7,493.1 L635.9,491.0 L648.4,494.7 L656.8,495.2 L664.0,493.1 L673.4,487.5 L685.9,478.1 L699.4,465.0 L710.0,462.5 L721.8,465.7 L733.3,477.1 L748.9,491.6 L756.2,510.9 L770.7,515.9 L782.2,510.9 L793.6,504.7 L807.8,496.8 L820.7,495.4 L836.3,493.1 L852.9,500.5 L861.2,508.9 L870.6,510.3 L883.1,507.8 L892.4,508.9 L908.0,513.0 L920.5,499.9 L928.8,483.3 L935.1,479.2 L944.4,479.2 L953.8,480.6 L966.3,487.5 L970.0,488.6 L981.5,492.7 L994.2,489.7 L1002.2,487.4 L1011.5,484.0 L1023.0,478.2 L1034.5,475.9 L1044.9,467.4 L1055.2,462.8 L1066.7,461.0 L1072.5,461.0 L1084.0,463.7 L1094.4,462.1 L1106.3,451.8 L1117.4,452.2 L1130.1,446.0 L1136.3,435.2 L1146.9,440.7 L1156.1,415.0 L1165.3,416.1 L1178.4,409.9 L1189.9,403.9 L1199.2,406.9 L1207.2,405.8 L1217.6,391.5 L1230.2,383.3 L1240.6,385.6 L1248.7,389.2 L1264.8,396.1 L1270.6,410.6" stroke="#EC2A2E" stroke-width="4.5"/>
</g>
<g clip-path="url(#cpd)" fill="none" stroke-linejoin="round" stroke-linecap="butt">
<path d="M167.3,690.1 L179.1,692.8 L189.1,696.3 L199.5,693.2 L209.5,692.8 L219.9,694.3 L230.3,697.4 L241.1,694.3 L252.6,694.3 L261.9,694.3 L268.2,692.2 L280.7,689.1 L287.3,679.7 L301.5,672.8 L311.9,670.3 L321.8,672.0 L332.2,678.2 L340.6,680.3 L353.9,674.1 L363.9,669.9 L371.8,670.3 L381.6,668.3 L393.0,661.6 L403.4,666.2 L412.1,663.7 L423.8,655.4 L435.9,655.8 L444.6,653.3 L455.0,654.1 L464.3,657.4 L473.7,659.5 L485.1,645.4 L495.5,640.2 L505.9,650.6 L515.3,662.0 L524.7,667.8 L538.2,664.1 L548.6,677.6 L559.0,689.1 L568.3,688.0 L579.8,690.7 L591.2,694.3 L603.7,706.7 L619.3,707.4 L627.6,685.3 L638.0,680.7 L648.4,677.6 L655.7,682.4 L665.1,705.7 L673.4,703.2 L684.8,703.2 L699.4,692.2 L710.4,695.3 L720.8,696.3 L730.8,697.8 L734.3,693.2 L748.9,707.4 L757.2,717.1 L770.7,718.6 L782.2,709.9 L793.2,694.9 L807.8,703.6 L818.2,694.3 L825.9,695.3 L840.4,701.5 L852.9,706.7 L861.2,710.3 L870.6,690.1 L881.0,688.0 L889.7,688.0 L908.0,677.0 L919.5,665.1 L934.0,646.4 L944.4,643.7 L954.8,648.5 L966.7,628.3 L975.4,634.3 L981.5,631.7 L994.2,633.5 L1004.1,627.1 L1011.5,625.9 L1023.0,618.3 L1034.5,611.4 L1044.9,613.7 L1052.9,611.0 L1061.0,601.8 L1071.3,597.6 L1082.9,593.0 L1094.4,593.7 L1106.3,571.4 L1117.9,574.6 L1130.8,589.8 L1147.3,582.9 L1156.1,583.3 L1165.3,573.0 L1178.4,593.7 L1188.8,599.5 L1197.5,609.8 L1207.2,597.2 L1218.3,606.4 L1230.2,605.2 L1240.6,606.8 L1248.7,602.9 L1265.3,613.3 L1270.6,611.0" stroke="#0072BD" stroke-width="4.3"/>
<path d="M167.3,717.6 L179.1,719.0 L189.1,717.6 L199.5,713.4 L209.9,707.3 L219.9,700.1 L230.7,701.1 L240.7,697.6 L251.5,696.5 L267.1,696.5 L280.7,684.6 L291.1,681.5 L301.5,677.8 L312.9,672.8 L321.8,672.2 L332.2,657.8 L340.6,651.6 L354.5,661.9 L362.8,671.8 L371.8,671.8 L382.2,667.5 L394.0,664.0 L402.4,663.4 L412.1,667.7 L424.2,660.5 L444.6,646.1 L455.0,646.1 L464.3,648.9 L473.7,656.8 L485.1,664.0 L494.9,682.5 L504.9,683.2 L515.3,684.6 L524.0,684.0 L536.1,677.8 L547.5,672.2 L559.0,669.1 L568.3,671.2 L579.4,674.9 L591.2,678.4 L603.7,684.6 L619.7,684.2 L629.7,679.9 L635.9,677.8 L648.4,681.5 L656.8,681.9 L664.0,679.9 L673.4,674.3 L685.9,665.0 L699.4,652.0 L710.0,649.6 L721.8,652.7 L733.3,664.0 L748.9,678.4 L756.2,697.6 L770.7,702.5 L782.2,697.6 L793.6,691.4 L807.8,683.6 L820.7,682.1 L836.3,679.9 L852.9,687.3 L861.2,695.5 L870.6,697.0 L883.1,694.5 L892.4,695.5 L908.0,699.6 L920.5,686.7 L928.8,670.2 L935.1,666.0 L944.4,666.0 L953.8,667.5 L966.3,674.3 L970.0,675.4 L981.5,679.5 L994.2,676.5 L1002.2,674.2 L1011.5,670.8 L1023.0,665.1 L1034.5,662.8 L1044.9,654.4 L1055.2,649.8 L1066.7,648.0 L1072.5,648.0 L1084.0,650.7 L1094.4,649.1 L1106.3,638.9 L1117.4,639.3 L1130.1,633.2 L1136.3,622.4 L1146.9,627.9 L1156.1,602.4 L1165.3,603.5 L1178.4,597.3 L1189.9,591.4 L1199.2,594.4 L1207.2,593.2 L1217.6,579.1 L1230.2,570.9 L1240.6,573.2 L1248.7,576.8 L1264.8,583.7 L1270.6,598.0" stroke="#EC2A2E" stroke-width="4.5"/>
</g>
<g clip-path="url(#cpe)" fill="none" stroke-linejoin="round" stroke-linecap="butt">
<path d="M167.3,834.9 L174.6,836.1 L184.5,834.9 L189.1,836.1 L201.6,834.9 L204.7,836.9 L214.1,835.5 L224.5,834.0 L232.8,832.0 L243.2,830.3 L251.5,828.6 L261.9,829.3 L264.0,817.4 L270.3,814.1 L280.7,814.1 L290.0,813.6 L295.2,810.5 L305.6,808.4 L313.9,808.4 L326.4,811.2 L336.8,812.0 L347.2,814.1 L355.5,814.7 L364.9,816.1 L366.7,820.5 L370.8,821.6 L374.9,819.3 L380.8,820.1 L385.3,824.2 L389.7,825.3 L394.9,827.5 L400.1,826.4 L402.0,848.0 L406.1,850.2 L412.4,850.7 L416.5,856.9 L419.4,856.1 L421.7,850.2 L425.4,849.1 L430.0,849.0 L431.3,848.3 L442.1,847.7 L444.6,851.1 L445.4,850.2 L446.6,861.9 L449.0,854.3 L452.9,852.4 L456.8,851.5 L465.4,846.5 L471.6,845.9 L478.9,844.9 L481.0,836.5 L490.3,836.1 L498.6,835.5 L501.8,838.2 L509.1,838.6 L517.4,841.1 L519.9,836.5 L522.6,838.6 L525.7,845.3 L530.9,843.8 L534.0,836.9 L542.3,834.5 L545.5,833.4 L547.5,838.6 L559.0,836.9 L560.6,842.4 L567.3,844.9 L571.5,847.4 L576.7,842.8 L590.2,844.4 L592.3,850.1 L600.6,852.1 L607.9,853.2 L611.0,880.2 L623.5,884.8 L629.7,884.8 L640.1,882.3 L642.2,888.5 L653.6,887.5 L658.8,884.0 L667.2,882.3 L675.5,878.1 L685.9,875.6 L699.7,874.0 L710.4,879.2 L718.7,882.3 L722.9,885.4 L731.2,886.5 L738.5,888.5 L740.6,895.8 L744.7,895.2 L748.9,899.4 L757.2,900.0 L760.3,893.1 L768.6,893.7 L770.7,906.8 L779.1,908.3 L790.5,906.8 L799.9,901.0 L814.4,900.0 L824.8,897.9 L833.1,896.4 L837.3,896.9 L841.5,904.8 L847.7,904.8 L853.9,896.9 L864.3,895.2 L871.6,895.2 L872.7,906.8 L887.2,906.2 L901.8,905.6 L908.0,908.3 L914.3,908.9 L916.4,904.1 L924.7,900.6 L928.8,900.6 L929.9,875.0 L937.2,875.0 L945.5,871.9 L954.8,872.3 L957.5,865.2 L968.4,864.0 L972.5,858.4 L973.5,857.9 L974.6,859.8 L976.9,862.5 L979.0,853.2 L983.8,853.7 L987.3,855.5 L993.0,853.2 L995.3,846.3 L1002.2,845.2 L1005.7,825.6 L1011.5,826.1 L1013.8,817.5 L1023.0,816.9 L1025.3,815.2 L1028.7,828.4 L1032.2,822.2 L1036.8,818.2 L1040.2,811.8 L1042.5,796.8 L1046.0,788.8 L1052.9,786.5 L1056.4,782.3 L1071.3,781.4 L1077.1,779.1 L1084.0,773.1 L1089.8,777.2 L1095.5,775.4 L1099.0,768.0 L1105.9,766.2 L1112.8,763.0 L1117.4,758.4 L1126.6,759.3 L1135.8,765.3 L1141.6,763.4 L1149.6,766.2 L1156.5,763.4 L1158.9,769.2 L1166.9,769.2 L1170.4,773.1 L1178.4,772.2 L1186.5,773.1 L1194.6,776.8 L1199.2,784.6 L1206.1,786.5 L1209.5,789.2 L1213.7,780.0 L1216.0,787.6 L1230.2,786.5 L1233.7,783.0 L1239.5,783.0 L1242.9,777.2 L1246.4,791.1 L1248.7,804.9 L1252.1,805.3 L1255.6,814.6 L1260.2,815.2 L1262.0,811.3 L1264.8,818.2 L1268.2,819.2 L1269.4,856.7" stroke="#0072BD" stroke-width="4.3"/>
<path d="M167.3,905.1 L179.1,906.5 L189.1,905.1 L199.5,900.9 L209.9,894.7 L219.9,887.5 L230.7,888.5 L240.7,885.0 L251.5,883.9 L267.1,883.9 L280.7,871.9 L291.1,868.8 L301.5,865.1 L312.9,860.1 L321.8,859.5 L332.2,844.9 L340.6,838.7 L354.5,849.1 L362.8,859.0 L371.8,859.0 L382.2,854.7 L394.0,851.2 L402.4,850.5 L412.1,854.9 L424.2,847.6 L444.6,833.1 L455.0,833.1 L464.3,836.0 L473.7,843.9 L485.1,851.2 L494.9,869.8 L504.9,870.5 L515.3,871.9 L524.0,871.3 L536.1,865.1 L547.5,859.5 L559.0,856.3 L568.3,858.4 L579.4,862.2 L591.2,865.7 L603.7,871.9 L619.7,871.5 L629.7,867.1 L635.9,865.1 L648.4,868.8 L656.8,869.2 L664.0,867.1 L673.4,861.5 L685.9,852.2 L699.4,839.1 L710.0,836.6 L721.8,839.8 L733.3,851.2 L748.9,865.7 L756.2,885.0 L770.7,889.9 L782.2,885.0 L793.6,878.7 L807.8,870.9 L820.7,869.4 L836.3,867.1 L852.9,874.6 L861.2,882.9 L870.6,884.3 L883.1,881.9 L892.4,882.9 L908.0,887.0 L920.5,874.0 L928.8,857.4 L935.1,853.2 L944.4,853.2 L953.8,854.7 L966.3,861.5 L970.0,862.6 L981.5,866.8 L994.2,863.8 L1002.2,861.5 L1011.5,858.0 L1023.0,852.3 L1034.5,850.0 L1044.9,841.5 L1055.2,836.9 L1066.7,835.1 L1072.5,835.1 L1084.0,837.8 L1094.4,836.2 L1106.3,825.9 L1117.4,826.3 L1130.1,820.1 L1136.3,809.3 L1146.9,814.9 L1156.1,789.1 L1165.3,790.3 L1178.4,784.1 L1189.9,778.1 L1199.2,781.1 L1207.2,780.0 L1217.6,765.7 L1230.2,757.4 L1240.6,759.7 L1248.7,763.4 L1264.8,770.3 L1270.6,784.8" stroke="#EC2A2E" stroke-width="4.5"/>
</g>
<g clip-path="url(#cpf)" fill="none" stroke-linejoin="round" stroke-linecap="butt">
<path d="M167.3,1085.5 L179.1,1087.6 L189.1,1090.5 L199.5,1088.4 L209.5,1088.4 L219.9,1085.9 L230.3,1091.8 L241.1,1090.5 L252.6,1086.4 L260.9,1088.4 L268.2,1087.6 L280.7,1085.5 L287.3,1078.7 L301.5,1072.4 L311.9,1071.0 L321.8,1071.0 L332.2,1076.0 L340.6,1077.2 L353.9,1072.4 L363.9,1067.6 L371.8,1068.3 L380.5,1069.3 L394.0,1060.6 L403.4,1062.0 L412.1,1055.8 L423.8,1048.5 L437.0,1053.4 L444.6,1053.1 L455.0,1055.2 L464.3,1057.2 L473.7,1054.3 L485.1,1041.8 L495.5,1037.1 L505.9,1045.4 L515.3,1053.7 L524.7,1055.8 L537.1,1052.2 L547.5,1063.5 L559.0,1073.0 L568.3,1070.3 L579.8,1071.0 L592.3,1073.5 L603.7,1082.2 L619.7,1082.2 L627.6,1058.5 L638.0,1054.7 L648.4,1048.1 L655.7,1054.3 L664.0,1079.7 L673.4,1080.7 L684.8,1078.7 L699.4,1062.6 L710.4,1066.2 L720.8,1069.3 L730.8,1071.0 L734.3,1069.7 L748.9,1082.2 L757.2,1092.2 L770.7,1092.6 L782.2,1087.0 L793.2,1065.1 L798.8,1065.6 L807.8,1071.8 L818.2,1062.6 L825.9,1063.5 L840.4,1069.7 L852.9,1074.5 L861.2,1079.3 L870.6,1062.6 L881.0,1062.6 L889.7,1064.7 L908.0,1056.8 L919.5,1044.3 L928.8,1029.4 L944.4,1017.7 L954.8,1027.7 L966.7,1008.6 L975.4,1014.0 L981.5,1009.8 L994.2,1011.5 L1004.1,1003.4 L1011.5,1002.2 L1023.0,994.6 L1034.5,986.8 L1044.9,991.4 L1052.9,990.7 L1061.0,980.4 L1071.3,975.8 L1082.9,966.1 L1094.4,965.4 L1106.3,944.0 L1117.9,944.0 L1130.8,963.1 L1135.8,961.5 L1147.3,955.0 L1156.1,957.3 L1165.3,948.1 L1178.4,971.2 L1188.8,975.3 L1197.5,987.3 L1207.2,973.9 L1218.3,983.8 L1230.2,979.9 L1240.6,981.5 L1248.7,976.9 L1265.3,985.4 L1270.6,984.5" stroke="#0072BD" stroke-width="4.3"/>
<path d="M167.3,1091.3 L179.1,1092.7 L189.1,1091.3 L199.5,1087.2 L209.9,1080.9 L219.9,1073.7 L230.7,1074.7 L240.7,1071.2 L251.5,1070.2 L267.1,1070.2 L280.7,1058.1 L291.1,1055.0 L301.5,1051.3 L312.9,1046.3 L321.8,1045.7 L332.2,1031.2 L340.6,1025.0 L354.5,1035.3 L362.8,1045.3 L371.8,1045.3 L382.2,1040.9 L394.0,1037.4 L402.4,1036.8 L412.1,1041.1 L424.2,1033.9 L444.6,1019.4 L455.0,1019.4 L464.3,1022.3 L473.7,1030.1 L485.1,1037.4 L494.9,1056.1 L504.9,1056.7 L515.3,1058.1 L524.0,1057.5 L536.1,1051.3 L547.5,1045.7 L559.0,1042.6 L568.3,1044.7 L579.4,1048.4 L591.2,1051.9 L603.7,1058.1 L619.7,1057.7 L629.7,1053.4 L635.9,1051.3 L648.4,1055.0 L656.8,1055.4 L664.0,1053.4 L673.4,1047.8 L685.9,1038.4 L699.4,1025.4 L710.0,1022.9 L721.8,1026.0 L733.3,1037.4 L748.9,1051.9 L756.2,1071.2 L770.7,1076.2 L782.2,1071.2 L793.6,1065.0 L807.8,1057.1 L820.7,1055.6 L836.3,1053.4 L852.9,1060.8 L861.2,1069.1 L870.6,1070.6 L883.1,1068.1 L892.4,1069.1 L908.0,1073.3 L920.5,1060.2 L928.8,1043.6 L935.1,1039.5 L944.4,1039.5 L953.8,1040.9 L966.3,1047.8 L970.0,1048.8 L981.5,1053.0 L994.2,1050.0 L1002.2,1047.7 L1011.5,1044.3 L1023.0,1038.5 L1034.5,1036.2 L1044.9,1027.7 L1055.2,1023.1 L1066.7,1021.3 L1072.5,1021.3 L1084.0,1024.1 L1094.4,1022.5 L1106.3,1012.1 L1117.4,1012.6 L1130.1,1006.4 L1136.3,995.6 L1146.9,1001.1 L1156.1,975.4 L1165.3,976.6 L1178.4,970.4 L1189.9,964.4 L1199.2,967.4 L1207.2,966.2 L1217.6,952.0 L1230.2,943.7 L1240.6,946.0 L1248.7,949.7 L1264.8,956.6 L1270.6,971.1" stroke="#EC2A2E" stroke-width="4.5"/>
</g>
<g clip-path="url(#cpg)" fill="none" stroke-linejoin="round" stroke-linecap="butt">
<path d="M167.3,1254.3 L179.1,1255.7 L189.1,1262.0 L199.5,1259.9 L209.5,1259.0 L219.9,1254.3 L230.3,1257.0 L241.1,1254.3 L252.6,1253.6 L261.9,1252.8 L268.2,1253.2 L280.7,1256.3 L287.3,1247.0 L301.5,1229.3 L311.9,1229.3 L321.8,1225.1 L332.2,1234.1 L340.6,1234.9 L353.9,1231.4 L362.8,1225.1 L371.8,1227.8 L380.5,1227.8 L394.0,1233.5 L403.4,1231.4 L412.1,1229.3 L423.8,1214.7 L435.9,1227.2 L444.6,1219.5 L455.0,1222.0 L464.3,1220.4 L473.7,1222.4 L485.1,1215.8 L495.5,1205.8 L505.9,1220.4 L515.3,1232.8 L526.7,1239.7 L538.2,1245.3 L548.6,1245.3 L559.0,1247.4 L568.3,1241.2 L579.8,1254.3 L591.2,1254.3 L595.4,1252.2 L603.7,1262.6 L619.7,1265.7 L627.6,1266.1 L635.9,1260.5 L646.4,1255.3 L656.8,1252.2 L665.1,1257.0 L673.4,1262.0 L684.8,1261.1 L699.4,1239.1 L709.4,1243.9 L721.8,1259.5 L730.2,1263.6 L735.4,1261.1 L747.8,1257.0 L758.2,1267.4 L770.7,1280.3 L781.1,1267.8 L793.2,1234.9 L807.8,1239.1 L818.2,1229.9 L825.9,1242.8 L836.3,1253.6 L852.9,1254.3 L861.2,1254.3 L871.0,1237.6 L881.0,1252.2 L889.7,1262.0 L908.0,1255.7 L919.5,1236.6 L928.8,1218.9 L935.1,1213.3 L944.4,1207.5 L954.8,1225.1 L966.3,1217.4 L974.6,1208.1 L981.5,1205.1 L994.2,1198.6 L1004.1,1199.8 L1011.5,1192.2 L1023.0,1174.4 L1034.5,1170.5 L1044.9,1158.3 L1052.9,1152.5 L1061.0,1141.0 L1073.2,1152.5 L1082.9,1159.5 L1094.4,1153.7 L1106.3,1126.8 L1117.9,1135.3 L1130.8,1197.5 L1136.3,1199.1 L1147.3,1175.1 L1156.1,1153.0 L1165.3,1126.8 L1178.4,1154.4 L1188.8,1155.3 L1207.2,1174.4 L1217.6,1197.5 L1230.2,1210.6 L1240.6,1210.6 L1248.7,1202.8 L1265.3,1198.6 L1270.6,1197.5" stroke="#0072BD" stroke-width="4.3"/>
<path d="M167.3,1292.3 L179.1,1293.7 L189.1,1292.3 L199.5,1288.0 L209.9,1281.6 L219.9,1274.2 L230.7,1275.2 L240.7,1271.6 L251.5,1270.6 L267.1,1270.6 L280.7,1258.2 L291.1,1255.1 L301.5,1251.2 L312.9,1246.1 L321.8,1245.5 L332.2,1230.6 L340.6,1224.2 L354.5,1234.9 L362.8,1245.1 L371.8,1245.1 L382.2,1240.6 L394.0,1237.0 L402.4,1236.3 L412.1,1240.8 L424.2,1233.4 L444.6,1218.5 L455.0,1218.5 L464.3,1221.5 L473.7,1229.5 L485.1,1237.0 L494.9,1256.1 L504.9,1256.8 L515.3,1258.2 L524.0,1257.6 L536.1,1251.2 L547.5,1245.5 L559.0,1242.3 L568.3,1244.4 L579.4,1248.2 L591.2,1251.9 L603.7,1258.2 L619.7,1257.8 L629.7,1253.3 L635.9,1251.2 L648.4,1255.1 L656.8,1255.5 L664.0,1253.3 L673.4,1247.6 L685.9,1238.0 L699.4,1224.6 L710.0,1222.1 L721.8,1225.3 L733.3,1237.0 L748.9,1251.9 L756.2,1271.6 L770.7,1276.7 L782.2,1271.6 L793.6,1265.3 L807.8,1257.2 L820.7,1255.7 L836.3,1253.3 L852.9,1261.0 L861.2,1269.5 L870.6,1271.0 L883.1,1268.4 L892.4,1269.5 L908.0,1273.8 L920.5,1260.4 L928.8,1243.4 L935.1,1239.1 L944.4,1239.1 L953.8,1240.6 L966.3,1247.6 L970.0,1248.7 L981.5,1253.0 L994.2,1249.9 L1002.2,1247.5 L1011.5,1244.0 L1023.0,1238.1 L1034.5,1235.8 L1044.9,1227.1 L1055.2,1222.4 L1066.7,1220.5 L1072.5,1220.5 L1084.0,1223.3 L1094.4,1221.7 L1106.3,1211.1 L1117.4,1211.5 L1130.1,1205.2 L1136.3,1194.1 L1146.9,1199.8 L1156.1,1173.4 L1165.3,1174.6 L1178.4,1168.2 L1189.9,1162.1 L1199.2,1165.2 L1207.2,1164.0 L1217.6,1149.4 L1230.2,1140.9 L1240.6,1143.3 L1248.7,1147.0 L1264.8,1154.1 L1270.6,1168.9" stroke="#EC2A2E" stroke-width="4.5"/>
</g>
<g clip-path="url(#cpa)" fill="none" stroke-linejoin="round" stroke-linecap="butt">
<path d="M207.2,128.6 L264.3,118.5 L270.0,113.9 L307.4,83.6 L323.5,91.9 L347.9,105.0 L363.9,103.2 L384.1,104.6 L404.3,85.4 L428.9,59.2 L429.3,58.3 L455.7,51.9 L484.8,100.8 L498.5,125.6 L510.3,119.9 L523.4,113.9 L550.2,100.2 L560.3,106.5 L570.0,114.5 L593.8,129.4 L604.5,137.1 L619.9,125.8 L636.6,113.7 L655.6,118.1 L679.4,104.6 L706.7,52.3 L720.0,61.0 L721.0,62.2 L727.1,66.4 L736.6,72.3 L745.0,90.1 L755.7,113.9 L769.9,146.0 L788.9,137.7 L803.2,127.0 L817.5,115.1 L847.2,94.9 L860.3,118.7 L868.6,134.1 L874.5,146.0 L875.9,147.8 L893.2,158.5 L912.2,151.9 L928.2,81.8 L958.0,90.7 L974.6,113.9 L1004.3,98.2 L1020.0,94.5 L1033.1,91.3 L1045.0,71.3 L1055.1,54.4 L1074.1,61.8 L1092.7,40.7 L1112.1,66.0 L1117.5,74.9 L1127.0,71.3 L1134.1,70.1 L1149.6,53.5 L1150.0,53.3 L1159.1,52.3 L1159.5,52.1 L1166.6,51.2 L1187.7,11.3 L1201.5,19.0 L1217.5,16.6 L1231.8,29.0 L1252.5,45.6 L1267.3,34.4 L1271.5,31.0" stroke="#0072BD" stroke-width="2.5"/>
<path d="M166.7,156.5 L177.8,153.1 L188.5,151.3 L199.2,142.9 L209.0,138.8 L217.1,145.5 L224.2,150.9 L230.4,152.4 L236.7,148.8 L248.3,149.5 L265.2,149.7 L274.1,141.5 L280.7,132.0 L310.4,131.7 L323.5,128.4 L336.6,109.4 L355.6,118.7 L365.1,127.6 L384.1,122.8 L397.2,119.3 L407.9,122.2 L416.2,134.1 L420.0,130.0 L423.3,129.1 L430.7,126.4 L440.2,116.0 L459.2,117.5 L473.5,123.7 L484.2,127.2 L496.1,129.1 L510.3,129.6 L537.7,128.2 L550.8,123.4 L566.2,118.7 L570.0,120.4 L593.8,128.4 L609.2,132.3 L621.1,134.4 L634.2,131.5 L648.5,134.1 L661.5,135.1 L671.0,134.4 L690.7,126.7 L718.6,128.3 L720.0,127.9 L758.6,153.1 L761.6,149.0 L771.1,144.6 L784.8,141.2 L803.2,137.1 L819.9,135.3 L829.4,135.9 L863.2,147.4 L869.8,142.4 L870.0,142.4 L884.3,138.3 L909.2,140.1 L921.1,132.3 L942.5,127.6 L953.8,129.1 L963.9,126.7 L974.6,134.1 L984.1,131.1 L1005.5,127.6 L1017.4,123.4 L1020.0,123.6 L1067.5,110.5 L1080.6,115.9 L1088.4,115.5 L1096.1,110.3 L1100.8,98.4 L1127.0,96.5 L1137.7,100.4 L1147.2,72.5 L1159.5,46.8 L1201.5,55.5 L1214.0,31.4 L1223.5,11.3 L1233.0,13.6 L1254.3,22.5 L1263.8,26.7 L1271.5,30.8" stroke="#EE5019" stroke-width="2.5"/>
<path d="M166.7,157.4 L177.8,154.9 L188.5,153.1 L198.3,150.4 L207.2,143.7 L210.8,141.3 L217.1,144.2 L230.4,143.5 L240.2,148.8 L252.7,144.9 L265.2,144.2 L274.1,142.9 L280.7,141.8 L287.8,137.7 L302.1,135.9 L311.6,115.7 L321.1,128.4 L332.4,124.6 L340.4,88.4 L355.6,105.6 L362.7,128.8 L370.4,121.0 L381.1,113.9 L393.6,114.5 L401.9,124.0 L412.1,138.3 L417.4,131.1 L420.0,129.4 L423.9,124.6 L424.2,124.4 L429.5,127.9 L436.0,131.7 L444.4,127.0 L464.0,127.2 L472.3,124.4 L485.4,88.0 L494.9,128.4 L506.8,130.3 L516.3,147.4 L524.6,148.6 L537.7,144.2 L549.6,141.5 L558.5,140.3 L568.6,135.1 L570.0,135.3 L579.5,143.6 L592.0,132.3 L595.6,132.7 L603.9,143.0 L616.4,145.8 L628.2,147.4 L636.6,137.1 L648.5,147.0 L665.1,138.3 L673.4,131.1 L685.3,132.3 L700.2,111.5 L709.7,105.3 L720.0,111.8 L722.2,113.9 L730.7,114.5 L734.3,127.0 L748.5,90.4 L757.4,100.8 L769.9,145.1 L780.6,143.6 L791.3,135.9 L797.3,138.9 L808.0,116.3 L817.5,132.7 L827.0,133.2 L835.9,135.3 L850.8,132.0 L860.9,142.4 L868.6,135.9 L881.3,104.6 L889.0,104.6 L908.0,135.9 L919.9,143.9 L934.2,117.2 L944.3,126.4 L955.0,113.0 L967.5,124.8 L974.6,118.1 L981.1,145.4 L993.6,137.1 L1004.3,140.7 L1012.6,140.7 L1020.0,142.6 L1021.6,142.4 L1033.1,133.4 L1044.4,129.0 L1052.7,136.5 L1061.6,124.2 L1073.5,107.0 L1083.0,131.9 L1093.7,144.1 L1105.6,99.9 L1118.1,99.9 L1127.6,58.8 L1136.5,10.7 L1146.6,142.1 L1150.0,130.4 L1157.1,91.2 L1164.8,112.0 L1179.0,110.8 L1189.7,99.0 L1197.4,113.2 L1218.1,129.2 L1230.6,78.2 L1240.7,91.2 L1249.0,77.3 L1264.9,91.2 L1270.9,139.8" stroke="#FDB515" stroke-width="2.5"/>
<path d="M224.2,156.8 L237.6,151.3 L242.9,151.3 L249.2,153.1 L265.2,153.5 L274.8,148.4 L275.0,148.5 L280.7,133.9 L312.2,133.9 L323.5,129.4 L336.0,106.8 L355.6,116.9 L365.1,127.6 L384.1,122.5 L397.2,118.9 L407.9,122.2 L416.2,134.7 L420.0,132.3 L423.3,130.0 L431.9,127.0 L440.2,114.5 L459.8,116.0 L473.5,124.0 L484.8,130.8 L505.6,132.9 L537.7,130.3 L550.8,124.6 L566.2,118.1 L570.0,118.7 L593.8,128.8 L609.2,133.9 L622.3,136.3 L634.8,132.9 L648.5,134.7 L661.5,136.5 L671.0,134.4 L690.7,126.4 L718.6,127.9 L720.0,128.8 L759.2,158.5 L762.8,154.1 L771.1,149.3 L784.8,145.4 L805.6,139.5 L819.9,137.7 L828.8,136.3 L863.2,151.4 L869.8,145.8 L870.0,146.0 L884.3,141.2 L912.8,142.4 L921.1,133.9 L942.5,128.8 L953.8,130.8 L963.9,128.4 L974.6,136.5 L984.1,132.9 L1005.5,129.4 L1017.4,124.0 L1020.0,124.2 L1067.5,111.5 L1080.6,116.3 L1088.4,115.9 L1096.1,110.5 L1100.8,97.2 L1127.0,93.3 L1137.7,98.7 L1147.2,70.1 L1159.5,46.2 L1165.4,46.8 L1201.5,54.5 L1214.0,30.8 L1223.5,10.9 L1233.0,13.0 L1254.3,21.9 L1263.8,26.1 L1271.5,29.6" stroke="#8E2A91" stroke-width="2.5"/>
<path d="M193.9,155.8 L207.2,155.8 L223.7,93.2 L226.0,120.6 L235.8,121.2 L240.2,113.4 L244.7,123.2 L249.6,100.7 L254.5,117.0 L256.7,109.0 L262.1,116.7 L277.7,110.1 L277.7,110.3 L283.1,125.2 L290.2,125.6 L295.0,100.6 L297.9,116.9 L305.7,118.1 L311.0,107.4 L315.8,84.2 L323.5,98.5 L332.4,69.3 L349.0,59.8 L353.8,78.2 L361.5,88.7 L370.4,92.7 L380.0,82.4 L394.2,80.0 L403.7,84.8 L408.5,91.6 L413.8,92.7 L418.0,78.2 L420.0,78.2 L430.1,75.9 L444.4,57.8 L459.2,58.6 L470.5,53.5 L481.8,58.3 L489.5,67.5 L493.7,105.3 L510.3,103.2 L522.8,111.8 L531.7,107.7 L544.2,88.9 L562.6,88.9 L571.8,99.4 L586.6,86.8 L609.8,91.6 L631.2,82.4 L645.5,87.8 L663.9,78.2 L674.0,68.1 L690.7,55.7 L720.0,55.7 L721.0,55.7 L728.3,67.0 L736.6,72.3 L750.3,87.2 L760.4,135.3 L768.7,119.9 L775.3,117.5 L783.0,108.0 L787.8,120.4 L794.9,95.5 L804.4,100.8 L809.2,94.3 L826.4,103.2 L840.1,102.6 L848.4,111.8 L859.1,121.0 L870.0,118.1 L898.5,108.6 L909.2,116.0 L919.9,114.5 L925.9,97.3 L939.5,79.2 L956.8,86.6 L965.1,92.5 L977.6,82.4 L987.1,94.3 L1001.9,91.9 L1017.4,88.4 L1020.0,83.2 L1022.4,75.5 L1031.9,83.8 L1045.6,72.5 L1058.0,80.2 L1074.7,73.5 L1084.2,75.8 L1096.1,83.2 L1106.8,75.8 L1112.7,67.8 L1124.6,67.8 L1131.1,59.4 L1138.3,22.0 L1144.2,61.8 L1152.4,70.2 L1152.5,70.7 L1159.5,46.5 L1169.0,51.0 L1178.4,39.1 L1198.0,21.3 L1208.1,28.4 L1214.0,30.2 L1230.6,29.0 L1233.0,11.9 L1240.1,11.9 L1254.3,24.3 L1263.8,27.3 L1268.5,37.9 L1270.9,68.1" stroke="#4DA83A" stroke-width="2.5"/>
<path d="M167.3,157.2 L179.1,158.6 L189.1,157.2 L199.5,153.1 L209.9,146.9 L219.9,139.7 L230.7,140.7 L240.7,137.3 L251.5,136.2 L267.1,136.2 L280.7,124.3 L291.1,121.2 L301.5,117.5 L312.9,112.6 L321.8,112.0 L332.2,97.6 L340.6,91.4 L354.5,101.7 L362.8,111.6 L371.8,111.6 L382.2,107.2 L394.0,103.7 L402.4,103.1 L412.1,107.4 L424.2,100.2 L444.6,85.9 L455.0,85.9 L464.3,88.7 L473.7,96.5 L485.1,103.7 L494.9,122.2 L504.9,122.9 L515.3,124.3 L524.0,123.7 L536.1,117.5 L547.5,112.0 L559.0,108.9 L568.3,110.9 L579.4,114.6 L591.2,118.1 L603.7,124.3 L619.7,123.9 L629.7,119.6 L635.9,117.5 L648.4,121.2 L656.8,121.6 L664.0,119.6 L673.4,114.0 L685.9,104.8 L699.4,91.8 L710.0,89.4 L721.8,92.4 L733.3,103.7 L748.9,118.1 L756.2,137.3 L770.7,142.2 L782.2,137.3 L793.6,131.1 L807.8,123.3 L820.7,121.8 L836.3,119.6 L852.9,127.0 L861.2,135.2 L870.6,136.6 L883.1,134.2 L892.4,135.2 L908.0,139.3 L920.5,126.4 L928.8,109.9 L935.1,105.8 L944.4,105.8 L953.8,107.2 L966.3,114.0 L970.0,115.1 L981.5,119.2 L994.2,116.2 L1002.2,114.0 L1011.5,110.5 L1023.0,104.9 L1034.5,102.6 L1044.9,94.2 L1055.2,89.6 L1066.7,87.8 L1072.5,87.8 L1084.0,90.5 L1094.4,88.9 L1106.3,78.7 L1117.4,79.1 L1130.1,73.0 L1136.3,62.3 L1146.9,67.8 L1156.1,42.3 L1165.3,43.4 L1178.4,37.3 L1189.9,31.3 L1199.2,34.3 L1207.2,33.2 L1217.6,19.1 L1230.2,10.9 L1240.6,13.1 L1248.7,16.8 L1264.8,23.6 L1270.6,37.9" stroke="#EC2A2E" stroke-width="5.5"/>
</g>
<text transform="translate(222.30,27.70) scale(1,1.04)" font-size="25" fill="#111" font-weight="bold">a.</text>
<text transform="translate(222.30,214.50) scale(1,1.04)" font-size="25" fill="#111" font-weight="bold">b.</text>
<text transform="translate(222.30,400.80) scale(1,1.04)" font-size="25" fill="#111" font-weight="bold">c.</text>
<text transform="translate(222.30,588.80) scale(1,1.04)" font-size="25" fill="#111" font-weight="bold">d.</text>
<text transform="translate(222.30,775.20) scale(1,1.04)" font-size="25" fill="#111" font-weight="bold">e.</text>
<text transform="translate(222.30,961.30) scale(1,1.04)" font-size="25" fill="#111" font-weight="bold">f.</text>
<text transform="translate(222.30,1154.70) scale(1,1.04)" font-size="25" fill="#111" font-weight="bold">g.</text>
<text transform="translate(497.60,226.70) scale(1,1.04)" font-size="22" fill="#1a1a1a" font-weight="bold">r = 0.73, p<tspan font-size="18" dy="8.1">ACF</tspan><tspan dy="-8.1"> = 0.03, p &lt; 0.01</tspan></text>
<text transform="translate(497.60,412.80) scale(1,1.04)" font-size="22" fill="#1a1a1a" font-weight="bold">r = 0.08, p<tspan font-size="18" dy="8.1">ACF</tspan><tspan dy="-8.1"> = 0.8, p = 0.4</tspan></text>
<text transform="translate(497.60,598.80) scale(1,1.04)" font-size="22" fill="#1a1a1a" font-weight="bold">r = 0.75, p<tspan font-size="18" dy="8.1">ACF</tspan><tspan dy="-8.1"> = 0.03, p &lt; 0.01</tspan></text>
<text transform="translate(497.60,786.70) scale(1,1.04)" font-size="22" fill="#1a1a1a" font-weight="bold">r = 0.57, p<tspan font-size="18" dy="8.1">ACF</tspan><tspan dy="-8.1"> = 0.14, p &lt; 0.01</tspan></text>
<text transform="translate(497.60,972.90) scale(1,1.04)" font-size="22" fill="#1a1a1a" font-weight="bold">r = 0.76, p<tspan font-size="18" dy="8.1">ACF</tspan><tspan dy="-8.1"> = 0.03, p &lt; 0.01</tspan></text>
<text transform="translate(497.60,1160.90) scale(1,1.04)" font-size="22" fill="#1a1a1a" font-weight="bold">r = 0.66, p<tspan font-size="18" dy="8.1">ACF</tspan><tspan dy="-8.1"> = 0.06, p &lt; 0.01</tspan></text>
<rect x="167.00" y="1294.5" width="113.46" height="57.7" fill="#6FA050" stroke="#222" stroke-width="1.3"/>
<text transform="translate(223.73,1333.90) scale(1,1.04)" font-size="25.5" fill="#222" text-anchor="middle" font-weight="bold">Cm</text>
<rect x="280.46" y="1294.5" width="84.89" height="57.7" fill="#00946E" stroke="#222" stroke-width="1.3"/>
<text transform="translate(322.91,1333.90) scale(1,1.04)" font-size="25.5" fill="#222" text-anchor="middle" font-weight="bold">Ord</text>
<rect x="365.35" y="1294.5" width="50.20" height="57.7" fill="#A8DAB5" stroke="#222" stroke-width="1.3"/>
<text transform="translate(390.45,1333.90) scale(1,1.04)" font-size="25.5" fill="#222" text-anchor="middle" font-weight="bold">S</text>
<rect x="415.55" y="1294.5" width="123.05" height="57.7" fill="#E08A2C" stroke="#222" stroke-width="1.3"/>
<text transform="translate(477.08,1333.90) scale(1,1.04)" font-size="25.5" fill="#222" text-anchor="middle" font-weight="bold">Dev</text>
<rect x="538.61" y="1294.5" width="122.44" height="57.7" fill="#37A69C" stroke="#222" stroke-width="1.3"/>
<text transform="translate(599.83,1333.90) scale(1,1.04)" font-size="25.5" fill="#222" text-anchor="middle" font-weight="bold">Carb</text>
<rect x="661.05" y="1294.5" width="95.91" height="57.7" fill="#EF4637" stroke="#222" stroke-width="1.3"/>
<text transform="translate(709.00,1333.90) scale(1,1.04)" font-size="25.5" fill="#222" text-anchor="middle" font-weight="bold">Perm</text>
<rect x="756.96" y="1294.5" width="103.26" height="57.7" fill="#93308F" stroke="#222" stroke-width="1.3"/>
<text transform="translate(808.59,1333.90) scale(1,1.04)" font-size="25.5" fill="#222" text-anchor="middle" font-weight="bold">Tr</text>
<rect x="860.21" y="1294.5" width="114.89" height="57.7" fill="#00B1CB" stroke="#222" stroke-width="1.3"/>
<text transform="translate(917.66,1333.90) scale(1,1.04)" font-size="25.5" fill="#222" text-anchor="middle" font-weight="bold">Jur</text>
<rect x="975.10" y="1294.5" width="161.21" height="57.7" fill="#5DB84A" stroke="#222" stroke-width="1.3"/>
<text transform="translate(1055.71,1333.90) scale(1,1.04)" font-size="25.5" fill="#222" text-anchor="middle" font-weight="bold">K</text>
<rect x="1136.32" y="1294.5" width="87.69" height="57.7" fill="#F7955B" stroke="#222" stroke-width="1.3"/>
<text transform="translate(1180.16,1333.90) scale(1,1.04)" font-size="25.5" fill="#222" text-anchor="middle" font-weight="bold">Pg</text>
<rect x="1224.00" y="1294.5" width="41.73" height="57.7" fill="#FFE600" stroke="#222" stroke-width="1.3"/>
<text transform="translate(1244.87,1333.90) scale(1,1.04)" font-size="25.5" fill="#222" text-anchor="middle" font-weight="bold">Ng</text>
<rect x="1265.74" y="1294.5" width="5.26" height="57.7" fill="#F9EF8A" stroke="#222" stroke-width="1.3"/>
<text transform="translate(250.67,1390.60) scale(1,1.04)" font-size="26" fill="#404040" text-anchor="middle">500</text>
<text transform="translate(352.70,1390.60) scale(1,1.04)" font-size="26" fill="#404040" text-anchor="middle">450</text>
<text transform="translate(454.73,1390.60) scale(1,1.04)" font-size="26" fill="#404040" text-anchor="middle">400</text>
<text transform="translate(556.77,1390.60) scale(1,1.04)" font-size="26" fill="#404040" text-anchor="middle">350</text>
<text transform="translate(658.80,1390.60) scale(1,1.04)" font-size="26" fill="#404040" text-anchor="middle">300</text>
<text transform="translate(760.83,1390.60) scale(1,1.04)" font-size="26" fill="#404040" text-anchor="middle">250</text>
<text transform="translate(862.87,1390.60) scale(1,1.04)" font-size="26" fill="#404040" text-anchor="middle">200</text>
<text transform="translate(964.90,1390.60) scale(1,1.04)" font-size="26" fill="#404040" text-anchor="middle">150</text>
<text transform="translate(1066.93,1390.60) scale(1,1.04)" font-size="26" fill="#404040" text-anchor="middle">100</text>
<text transform="translate(1168.97,1390.60) scale(1,1.04)" font-size="26" fill="#404040" text-anchor="middle">50</text>
<text transform="translate(1271.00,1390.60) scale(1,1.04)" font-size="26" fill="#404040" text-anchor="middle">0</text>
<text transform="translate(719.00,1427.00) scale(1,1.04)" font-size="28.8" fill="#404040" text-anchor="middle">Geological time (Ma)</text>
<text transform="translate(30.30,85.20) rotate(-90) scale(1,1.04)" font-size="29" fill="#000" text-anchor="middle">Observed</text>
<text transform="translate(68.40,85.20) rotate(-90) scale(1,1.04)" font-size="29" fill="#000" text-anchor="middle">species</text>
<text transform="translate(106.10,85.20) rotate(-90) scale(1,1.04)" font-size="29" fill="#000" text-anchor="middle">richness</text>
<text transform="translate(31.90,271.50) rotate(-90) scale(1,1.04)" font-size="29" fill="#0072BD" text-anchor="middle">Modelled</text>
<text transform="translate(70.00,271.50) rotate(-90) scale(1,1.04)" font-size="29" fill="#0072BD" text-anchor="middle">sp. richness</text>
<text transform="translate(114.20,271.50) rotate(-90) scale(1,1.04)" font-size="29" fill="#0072BD" text-anchor="middle">(x10<tspan dy="-12.7" font-size="23">5</tspan><tspan dy="12.7"> species)</tspan></text>
<text transform="translate(30.20,458.00) rotate(-90) scale(1,1.04)" font-size="29" fill="#0072BD" text-anchor="middle">10<tspan dy="-12.7" font-size="23">4</tspan><tspan dy="12.7"> Modelled</tspan></text>
<text transform="translate(68.20,458.00) rotate(-90) scale(1,1.04)" font-size="29" fill="#0072BD" text-anchor="middle">sp. richness</text>
<text transform="translate(106.60,458.00) rotate(-90) scale(1,1.04)" font-size="29" fill="#0072BD" text-anchor="middle">(no spec.)</text>
<text transform="translate(69.90,645.50) rotate(-90) scale(1,1.04)" font-size="29" fill="#0072BD" text-anchor="middle">Area</text>
<text transform="translate(113.80,645.50) rotate(-90) scale(1,1.04)" font-size="29" fill="#0072BD" text-anchor="middle">(x10<tspan dy="-12.7" font-size="23">7</tspan><tspan dy="12.7">km²)</tspan></text>
<text transform="translate(68.40,832.00) rotate(-90) scale(1,1.04)" font-size="29" fill="#0072BD" text-anchor="middle">Fragmentation</text>
<text transform="translate(106.10,832.00) rotate(-90) scale(1,1.04)" font-size="29" fill="#0072BD" text-anchor="middle">index</text>
<text transform="translate(84.90,1019.00) rotate(-90) scale(1,1.04)" font-size="29" fill="#0072BD" text-anchor="middle">LCI</text>
<text transform="translate(69.70,1237.00) rotate(-90) scale(1,1.04)" font-size="29" fill="#0072BD" text-anchor="middle">LBG-weighted</text>
<text transform="translate(114.10,1237.00) rotate(-90) scale(1,1.04)" font-size="29" fill="#0072BD" text-anchor="middle">LCI (x10<tspan dy="-12.7" font-size="23">6</tspan><tspan dy="12.7">)</tspan></text>
<text transform="translate(1339.60,645.30) rotate(-90) scale(1,1.04)" font-size="29" fill="#EC1C24" text-anchor="middle">Fossil species richness index (x 10<tspan dy="-12.7" font-size="23">4</tspan><tspan dy="12.7">)</tspan></text>
</svg></body></html>
